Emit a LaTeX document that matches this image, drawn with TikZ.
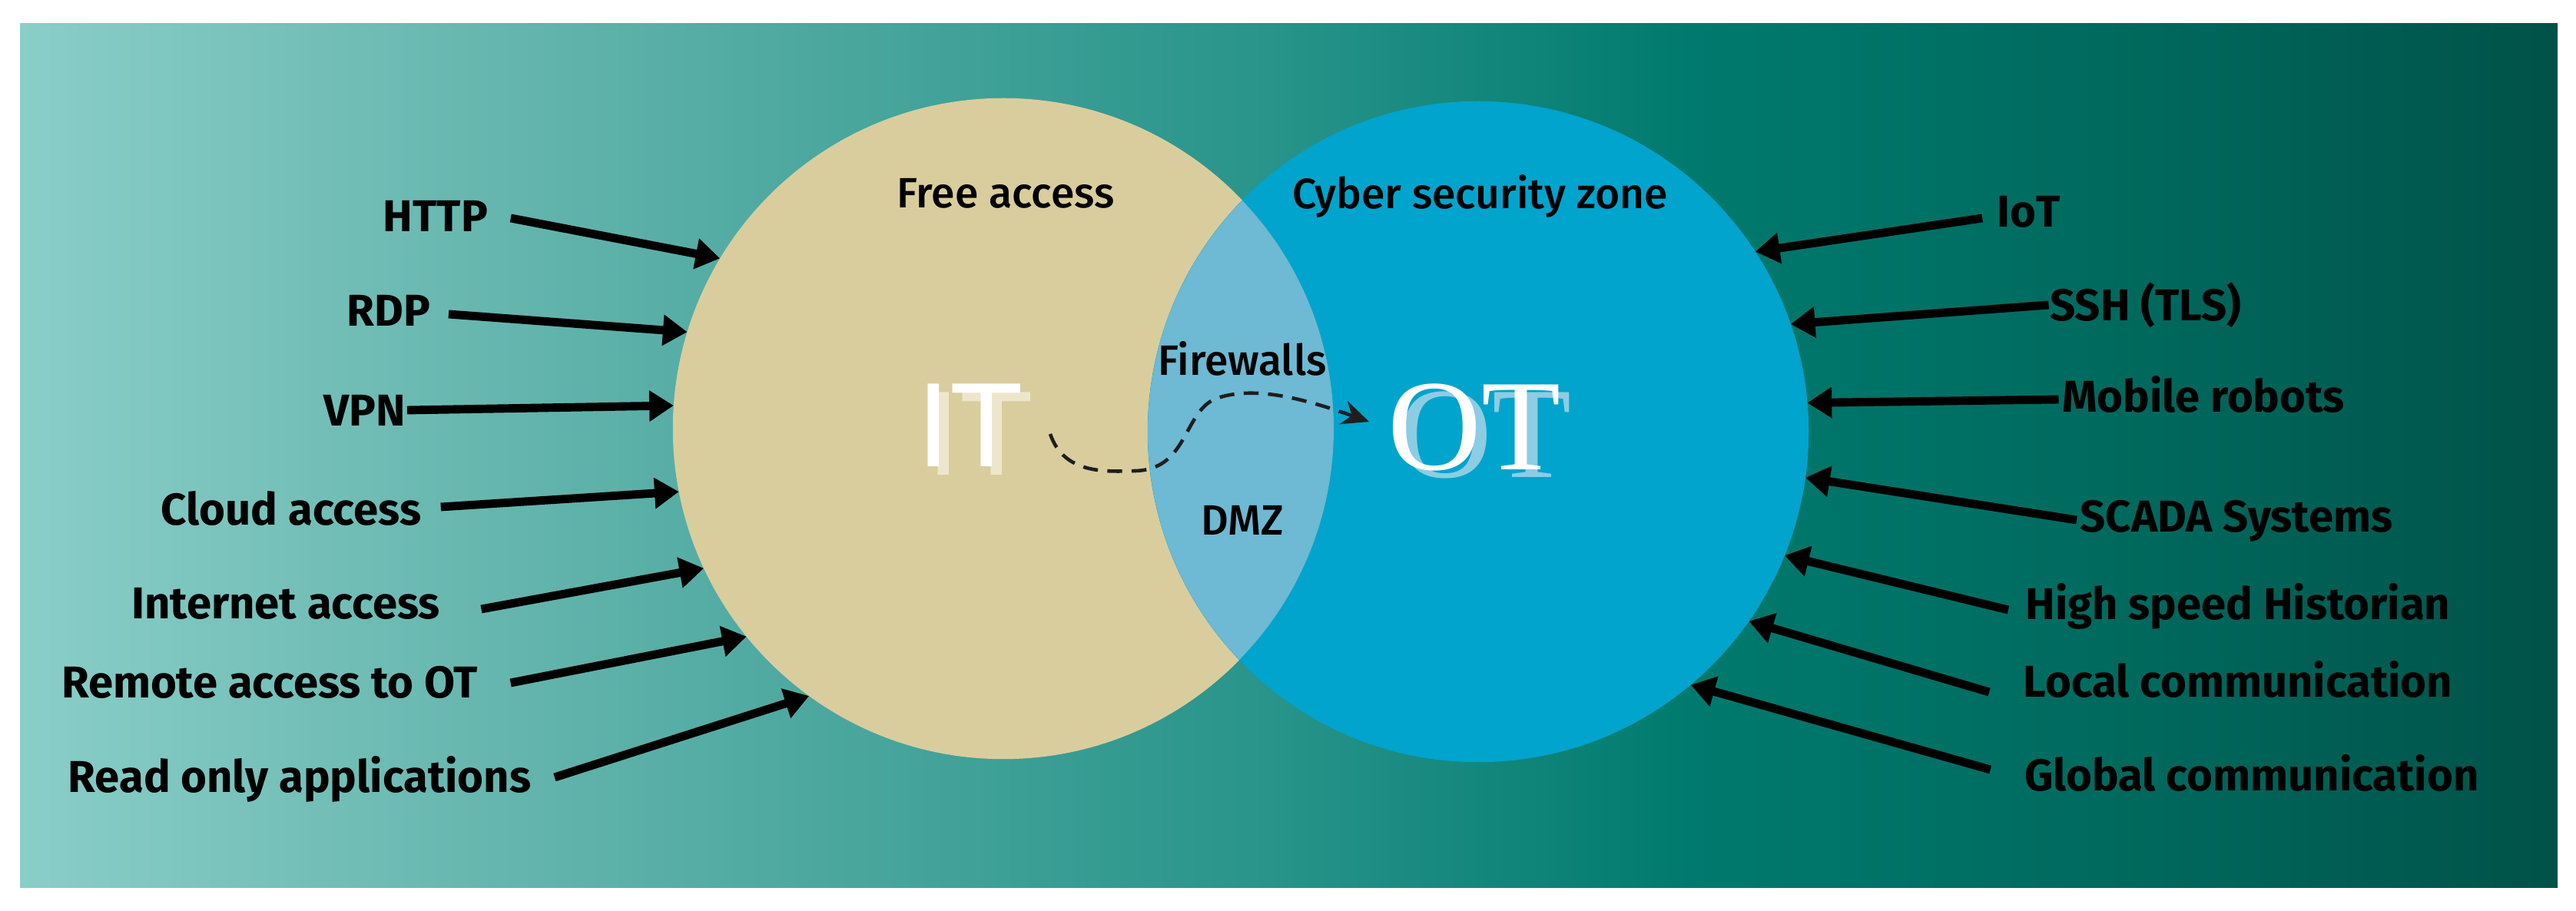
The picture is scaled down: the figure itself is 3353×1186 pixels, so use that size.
\documentclass[tikz,border=0pt]{standalone}
\usepackage{fontspec}
\setmainfont{Fira Sans}
\newfontfamily\medfont{Fira Sans Medium}
\newfontfamily\itfont{Liberation Sans}
\newfontfamily\otfont{Liberation Serif}
\usetikzlibrary{arrows.meta,calc}
\definecolor{bgA}{RGB}{138,206,200}
\definecolor{bgB}{RGB}{98,180,172}
\definecolor{bgC}{RGB}{40,148,138}
\definecolor{bgD}{RGB}{0,122,110}
\definecolor{bgE}{RGB}{0,104,93}
\definecolor{bgF}{RGB}{0,82,72}
\definecolor{itcol}{RGB}{217,205,158}
\definecolor{otcol}{RGB}{0,164,204}
\definecolor{lenscol}{RGB}{110,185,211}
\definecolor{itshadow}{RGB}{238,230,204}
\definecolor{otshadow}{RGB}{140,205,228}
\definecolor{dashcol}{RGB}{30,30,30}
\pgfdeclarehorizontalshading{bgshade}{100bp}{color(0bp)=(bgA); color(25bp)=(bgA); color(35.2bp)=(bgB); color(49.6bp)=(bgC); color(57.9bp)=(bgD); color(67bp)=(bgE); color(75bp)=(bgF); color(100bp)=(bgF)}
\tikzset{
  zone/.style={circle, minimum size=8.6cm, inner sep=0pt, outer sep=0pt},
  lbl/.style={font=\fontsize{16.5}{18}\selectfont\bfseries, anchor=base, inner sep=0pt, text=black},
  ctr/.style={font=\medfont\fontsize{15.7}{18}\selectfont, anchor=base, inner sep=0pt, text=black},
  arr/.style={line width=3.1pt, black, -{Triangle[length=9pt,width=11pt]}},
  dashline/.style={line width=1.3pt, dashcol, dash pattern=on 5.5pt off 3.5pt, -{Stealth[length=10pt,width=9pt]}}
}
\begin{document}
\begin{tikzpicture}[x=0.01cm,y=-0.01cm]
\useasboundingbox (0,0) rectangle (3353,1186);
\fill[white] (0,0) rectangle (3353,1186);
\shade[shading=bgshade] (26,31) rectangle (3329,1156);
% circles
\node[zone, fill=itcol] (itc) at (1306,558) {};
\node[zone, fill=otcol] (otc) at (1924,562) {};
\begin{scope}
  \clip (1306,558) circle[radius=430];
  \fill[lenscol] (1924,562) circle[radius=430];
\end{scope}
% big titles (with offset shadow copies)
\node[anchor=base, inner sep=0pt, text=itshadow, font=\itfont\fontsize{44.5}{50}\selectfont] (ITsh) at (1276,619) {IT};
\node[anchor=base, inner sep=0pt, text=white, font=\itfont\fontsize{44.5}{50}\selectfont] (IT) at (1263,608) {IT};
\node[anchor=base, inner sep=0pt, text=otshadow, font=\otfont\fontsize{48}{54}\selectfont] (OTsh) at (1933,622) {OT};
\node[anchor=base, inner sep=0pt, text=white, font=\otfont\fontsize{48}{54}\selectfont] (OT) at (1919,612) {OT};
% zone texts
\node[ctr] (free) at (1309,271) {Free access};
\node[ctr] (cyber) at (1927,272) {Cyber security zone};
\node[ctr] (fw) at (1617,489) {Firewalls};
\node[ctr] (dmz) at (1617,697) {DMZ};
% dashed path IT -> OT
\coordinate (ds) at (1367,565);
\coordinate (de) at (1782,549);
\draw[dashline] (ds) .. controls (1385,618) and (1440,614) .. (1478,613) .. controls (1545,611) and (1540,540) .. (1580,520) .. controls (1630,500) and (1700,520) .. (de);
% left labels
\node[lbl] (http) at (567,302) {HTTP};
\node[lbl] (rdp) at (506,425) {RDP};
\node[lbl] (vpn) at (475,555) {VPN};
\node[lbl] (cloud) at (379,684) {Cloud access};
\node[lbl] (inet) at (372,806) {Internet access};
\node[lbl] (remote) at (351,909) {Remote access to OT};
\node[lbl] (readonly) at (390,1032) {Read only applications};
\draw[arr] ($(http.base east)+(29,-18)$) -- (itc.149.3);
\draw[arr] ($(rdp.base east)+(23,-16)$) -- (itc.163.3);
\draw[arr] ($(vpn.base east)+(1,-21)$) -- (itc.176);
\draw[arr] ($(cloud.base east)+(25,-24)$) -- (itc.191.4);
\draw[arr] ($(inet.base east)+(53,-13)$) -- (itc.205.6);
\draw[arr] ($(remote.base east)+(42,-20)$) -- (itc.219.6);
\draw[arr] ($(readonly.base east)+(30,-20)$) -- (itc.234.4);
% right labels
\node[lbl] (iot) at (2641,296) {IoT};
\node[lbl] (ssh) at (2793,418) {SSH (TLS)};
\node[lbl] (mobile) at (2868,537) {Mobile robots};
\node[lbl] (scada) at (2911,693) {SCADA Systems};
\node[lbl] (hist) at (2913,807) {High speed Historian};
\node[lbl] (local) at (2913,908) {Local communication};
\node[lbl] (global) at (2931,1030) {Global communication};
\draw[arr] ($(iot.base west)+(-19,-12)$) -- (otc.33.8);
\draw[arr] ($(ssh.base west)+(-1,-21)$) -- (otc.19.9);
\draw[arr] ($(mobile.base west)+(-4,-17)$) -- (otc.5.8);
\draw[arr] ($(scada.base west)+(-4,-16)$) -- (otc.-8);
\draw[arr] ($(hist.base west)+(-22,-13)$) -- (otc.-22.4);
\draw[arr] ($(local.base west)+(-44,-7)$) -- (otc.-35);
\draw[arr] ($(global.base west)+(-44,-28)$) -- (otc.-50.3);
\end{tikzpicture}
\end{document}
